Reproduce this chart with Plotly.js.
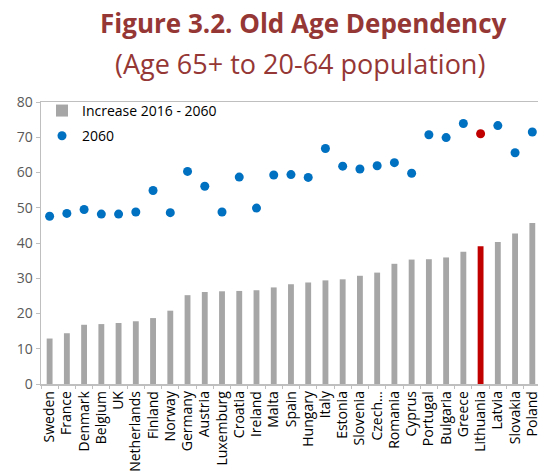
<!DOCTYPE html>
<html>
<head>
<meta charset="utf-8">
<script src="https://cdn.plot.ly/plotly-3.0.1.min.js"></script>
<style>html,body{margin:0;padding:0;background:#fff;}#chart{width:538px;height:476px;}</style>
</head>
<body>
<div id="chart"></div>
<script>
const countries = ["Sweden","France","Denmark","Belgium","UK","Netherlands","Finland","Norway","Germany","Austria","Luxemburg","Croatia","Ireland","Malta","Spain","Hungary","Italy","Estonia","Slovenia","Czech…","Romania","Cyprus","Portugal","Bulgaria","Greece","Lithuania","Latvia","Slovakia","Poland"];
const increase = [12.9,14.4,16.8,17.0,17.3,17.8,18.7,20.8,25.2,26.1,26.3,26.4,26.6,27.4,28.3,28.8,29.4,29.7,30.7,31.6,34.1,35.3,35.4,35.9,37.5,39.1,40.3,42.7,45.7];
const ratio2060 = [47.6,48.4,49.5,48.2,48.2,48.8,54.9,48.6,60.3,56.1,48.8,58.7,49.9,59.3,59.4,58.6,66.8,61.8,61.0,61.9,62.8,59.8,70.7,69.9,73.9,71.0,73.3,65.6,71.5];
const highlight = "Lithuania";

const barColors = countries.map(c => c === highlight ? "#C00000" : "#A6A6A6");
const dotColors = countries.map(c => c === highlight ? "#C00000" : "#0070C0");

const traces = [
  {type:"bar", name:"Increase 2016 - 2060", legendgroup:"a", x:countries, y:increase,
   marker:{color:barColors}, hoverinfo:"x+y"},
  {type:"scatter", mode:"markers", name:"2060", legendgroup:"b", x:countries, y:ratio2060,
   marker:{color:dotColors, size:9}, hoverinfo:"x+y"}
];

const layout = {
  width:538, height:476,
  margin:{l:41, r:0, t:102, b:92},
  paper_bgcolor:"#fff", plot_bgcolor:"#fff",
  font:{family:"Open Sans, sans-serif", color:"#000"},
  bargap:0.66,
  showlegend:true,
  legend:{x:0.002, y:1.025, xanchor:"left", yanchor:"top", bgcolor:"rgba(0,0,0,0)",
          font:{size:14, color:"#000"}, tracegroupgap:4, itemwidth:30},
  xaxis:{type:"category", range:[-0.5, 28.33], tickmode:"linear", tick0:0, dtick:1,
         showline:true, linecolor:"#BFBFBF", linewidth:1.5,
         mirror:true, ticks:"outside", ticklen:3, tickcolor:"#BFBFBF", tickson:"boundaries",
         tickangle:-90, tickfont:{size:14, color:"#000"}, showgrid:false, automargin:false},
  yaxis:{range:[0,80], dtick:10, showline:true, linecolor:"#BFBFBF", linewidth:1.5,
         ticks:"outside", ticklen:4, tickcolor:"#BFBFBF", showgrid:false, zeroline:false,
         tickfont:{size:14, color:"#595959"}, automargin:false},
  annotations:[
    {text:"<b>Figure 3.2. Old Age Dependency</b>", xref:"paper", yref:"paper", x:0.529, y:1.28,
     xanchor:"center", yanchor:"middle", showarrow:false, font:{size:26, color:"#953735"}},
    {text:"(Age 65+ to 20-64 population)", xref:"paper", yref:"paper", x:0.521, y:1.138,
     xanchor:"center", yanchor:"middle", showarrow:false, font:{size:27, color:"#953735"}}
  ]
};

Plotly.newPlot("chart", traces, layout, {displayModeBar:false, staticPlot:true});
</script>
</body>
</html>
